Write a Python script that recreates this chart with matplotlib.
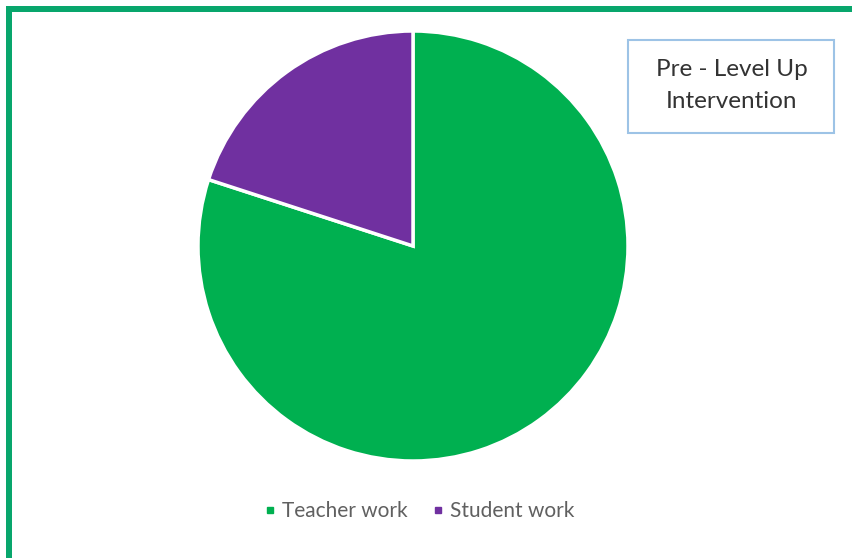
import matplotlib
matplotlib.use("Agg")
import matplotlib.pyplot as plt
from matplotlib.patches import Rectangle
from matplotlib.lines import Line2D

labels = ["Teacher work", "Student work"]
values = [80, 20]
colors = ["#00B050", "#7030A0"]
title_lines = ["Pre - Level Up", "Intervention"]

W, H = 853, 558
fig = plt.figure(figsize=(W / 100, H / 100), dpi=100)
fig.patch.set_facecolor("white")

def fx(px):
    return px / W

def fy(py):
    return 1 - py / H

# pie axes
cx, cy, r = 413, 246, 215
ax = fig.add_axes([fx(cx - r), fy(cy + r), 2 * r / W, 2 * r / H])
ax.pie(values, colors=colors, startangle=90, counterclock=False,
       wedgeprops=dict(edgecolor="white", linewidth=2.5))
ax.set_xlim(-1, 1)
ax.set_ylim(-1, 1)
ax.set_aspect("equal")
ax.axis("off")

# green frame (top and left)
frame_col = "#08A66C"
fig.patches.append(Rectangle((fx(6), fy(12)), 1 - fx(6), 6 / H, transform=fig.transFigure,
                             facecolor=frame_col, edgecolor="none"))
fig.patches.append(Rectangle((fx(6), 0), 6 / W, fy(6), transform=fig.transFigure,
                             facecolor=frame_col, edgecolor="none"))

# title box
bx0, by0, bx1, by1 = 628, 40, 834, 133
fig.patches.append(Rectangle((fx(bx0), fy(by1)), (bx1 - bx0) / W, (by1 - by0) / H,
                             transform=fig.transFigure, facecolor="white",
                             edgecolor="#9DC3E6", linewidth=1.5))
fig.text(fx(732), fy(69), title_lines[0], ha="center", va="center",
         fontsize=17.5, family="Lato", color="#333333")
fig.text(fx(732), fy(101), title_lines[1], ha="center", va="center",
         fontsize=17.5, family="Lato", color="#333333")

# legend
handles = [Line2D([], [], marker="s", linestyle="none", markersize=5,
                  markerfacecolor=c, markeredgecolor=c) for c in colors]
fig.legend(handles, labels, loc="center", bbox_to_anchor=(fx(418), fy(511)),
           ncol=2, frameon=False, handletextpad=0.15, columnspacing=1.1,
           handlelength=0.8, prop=dict(family="Lato", size=15),
           labelcolor="#606060")

fig.savefig("out.png", dpi=100, facecolor="white")
